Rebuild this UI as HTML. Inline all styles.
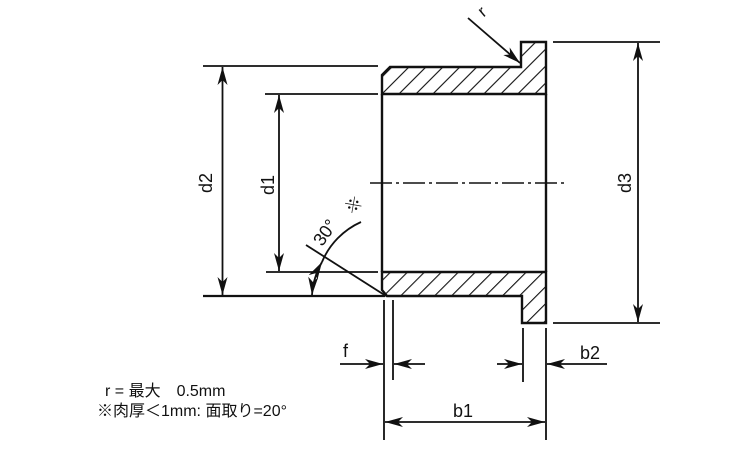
<!DOCTYPE html>
<html><head><meta charset="utf-8"><style>
html,body{margin:0;padding:0;background:#fff;}
svg{display:block;}
text{font-family:"Liberation Sans","Noto Sans CJK JP",sans-serif;fill:#111;}
</style></head><body>
<svg width="750" height="450" viewBox="0 0 750 450" xmlns="http://www.w3.org/2000/svg">
<defs>
<pattern id="h" patternUnits="userSpaceOnUse" width="12" height="12" patternTransform="rotate(45)">
<line x1="0" y1="0" x2="0" y2="12" stroke="#111" stroke-width="2.2"/>
</pattern>
<marker id="a" viewBox="0 0 18 10" refX="18" refY="5" markerWidth="18" markerHeight="10" orient="auto-start-reverse" markerUnits="userSpaceOnUse">
<path d="M0,0 L18,5 L0,10 L5,5 Z" fill="#111"/>
</marker>
</defs>
<g stroke="#111" stroke-width="1.8" fill="none">
<path d="M382,75 L390,67 L521,67 L521,42 L546,42 L546,94 L382,94 Z" fill="url(#h)" stroke-width="2.4"/>
<path d="M382,272 L546,272 L546,323 L522,323 L522,296 L387,296 L382,290 Z" fill="url(#h)" stroke-width="2.4"/>
<line x1="382" y1="94" x2="382" y2="272" stroke-width="2.4"/>
<line x1="546" y1="94" x2="546" y2="272" stroke-width="2.4"/>
<line x1="370" y1="183" x2="565" y2="183" stroke-dasharray="22,4,3,4" stroke-width="1.4"/>
<line x1="203" y1="66" x2="378" y2="66"/>
<line x1="203" y1="296" x2="385" y2="296" stroke-width="2.2"/>
<line x1="265" y1="94" x2="378" y2="94"/>
<line x1="266" y1="272" x2="378" y2="272"/>
<line x1="553" y1="42" x2="660" y2="42"/>
<line x1="553" y1="323" x2="660" y2="323"/>
<line x1="222.5" y1="67" x2="222.5" y2="295" marker-start="url(#a)" marker-end="url(#a)"/>
<line x1="279" y1="95" x2="279" y2="271" marker-start="url(#a)" marker-end="url(#a)"/>
<line x1="638" y1="43" x2="638" y2="322" marker-start="url(#a)" marker-end="url(#a)"/>
<line x1="468" y1="18" x2="520" y2="63" marker-end="url(#a)"/>
<line x1="386" y1="296" x2="306" y2="245"/>
<path d="M312,295 A76,76 0 0 1 322,262" marker-start="url(#a)" marker-end="url(#a)"/>
<path d="M322,262 A76,76 0 0 1 361,222"/>
<line x1="384" y1="300" x2="384" y2="440"/>
<line x1="393" y1="300" x2="393" y2="380"/>
<line x1="523" y1="328" x2="523" y2="382"/>
<line x1="546" y1="328" x2="546" y2="440"/>
<line x1="340" y1="364" x2="383" y2="364" marker-end="url(#a)"/>
<line x1="425" y1="364" x2="394" y2="364" marker-end="url(#a)"/>
<line x1="497" y1="364" x2="522" y2="364" marker-end="url(#a)"/>
<line x1="607" y1="364" x2="547" y2="364" marker-end="url(#a)"/>
<line x1="385" y1="422" x2="545" y2="422" marker-start="url(#a)" marker-end="url(#a)"/>
</g>
<text x="480" y="16" font-size="17" transform="rotate(-40 484 12)">r</text>
<text font-size="18" transform="translate(212,183) rotate(-90)" text-anchor="middle">d2</text>
<text font-size="18" transform="translate(274,185) rotate(-90)" text-anchor="middle">d1</text>
<text font-size="18" transform="translate(631,183) rotate(-90)" text-anchor="middle">d3</text>
<text font-size="18" transform="translate(330,236) rotate(-55)" text-anchor="middle">30°</text>
<text font-size="17" transform="translate(357,210) rotate(-35)" text-anchor="middle">※</text>
<text x="343" y="357" font-size="18">f</text>
<text x="580" y="359" font-size="18">b2</text>
<text x="453" y="417" font-size="18">b1</text>
<text x="105" y="396" font-size="16">r = 最大　0.5mm</text>
<text x="97" y="416" font-size="16">※肉厚＜1mm: 面取り=20°</text>
</svg>
</body></html>
